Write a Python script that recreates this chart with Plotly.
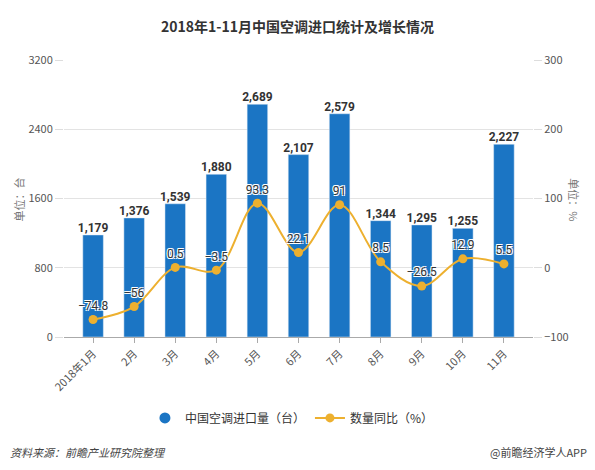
import plotly.graph_objects as go

months = ["2018年1月", "2月", "3月", "4月", "5月", "6月", "7月", "8月", "9月", "10月", "11月"]
imports = [1179, 1376, 1539, 1880, 2689, 2107, 2579, 1344, 1295, 1255, 2227]
yoy = [-74.8, -56, 0.5, -3.5, 93.3, 22.1, 91, 8.5, -26.5, 12.9, 5.5]
yoy_labels = ["−74.8", "−56", "0.5", "−3.5", "93.3", "22.1", "91", "8.5", "−26.5", "12.9", "5.5"]
left_ticks = [0, 800, 1600, 2400, 3200]
right_ticks = [-100, 0, 100, 200, 300]

BLUE = "#1B75C4"
GOLD = "#EDB02F"
FONT = "Noto Sans CJK SC"

fig = go.Figure()
fig.add_trace(go.Bar(
    x=months, y=imports, name="中国空调进口量（台）", marker_color=BLUE,
    width=0.5, showlegend=False,
))
fig.add_trace(go.Scatter(
    x=months, y=imports, mode="text", text=[f"{v:,}" for v in imports],
    textposition="top center", showlegend=False, hoverinfo="skip",
    textfont=dict(size=12, color="#333", family="Roboto", weight="bold"),
    cliponaxis=False,
))
fig.add_trace(go.Scatter(
    x=[None], y=[None], mode="markers", name="中国空调进口量（台）",
    marker=dict(color=BLUE, size=11, symbol="circle"), showlegend=True,
))
fig.add_trace(go.Scatter(
    x=months, y=yoy, yaxis="y2", name="数量同比（%）", mode="lines+markers+text",
    line=dict(color=GOLD, width=2, shape="spline", smoothing=1.0),
    marker=dict(color=GOLD, size=9),
    text=yoy_labels, textposition="top center",
    textfont=dict(size=12, color="#333", family="Roboto",
                  shadow="1px 1px 0 #fff, -1px -1px 0 #fff, 1px -1px 0 #fff, -1px 1px 0 #fff"),
    cliponaxis=False,
))

fig.update_layout(
    width=595, height=470,
    margin=dict(l=64, r=62, t=60, b=133, autoexpand=False),
    paper_bgcolor="white", plot_bgcolor="white",
    font=dict(family=FONT, color="#555", size=11),
    title=dict(text="<b>2018年1-11月中国空调进口统计及增长情况</b>", x=0.5, xanchor="center",
               y=0.943, yanchor="middle", font=dict(size=14, color="#333", family=FONT)),
    bargap=0.5,
    xaxis=dict(tickangle=-45, showline=True, linecolor="#aaa", ticks="outside",
               ticklen=5, tickcolor="#aaa", tickfont=dict(size=11, color="#555"),
               automargin=False),
    yaxis=dict(range=[0, 3200], tickvals=left_ticks, showgrid=True, gridcolor="#e3e3e3",
               ticks="outside", ticklen=8, tickcolor="#ddd", zeroline=False,
               tickfont=dict(size=11, color="#555"), automargin=False),
    yaxis2=dict(range=[-100, 300], tickvals=right_ticks, overlaying="y", side="right",
                showgrid=False, ticks="outside", ticklen=8, tickcolor="#ddd", zeroline=False,
                tickfont=dict(size=11, color="#555"), automargin=False),
    legend=dict(orientation="h", x=0.486, xanchor="center", y=-0.292, yanchor="middle",
                font=dict(size=12, color="#333"), itemwidth=30, tracegroupgap=0),
    showlegend=True,
)

fig.add_annotation(text="单位：台", xref="paper", yref="paper", x=-0.118, y=0.495,
                   textangle=-90, showarrow=False, font=dict(size=11, color="#777"))
fig.add_annotation(text="单位：%", xref="paper", yref="paper", x=1.11, y=0.495,
                   textangle=90, showarrow=False, font=dict(size=11, color="#777"))
fig.add_annotation(text="<i>资料来源：前瞻产业研究院整理</i>", xref="paper", yref="paper",
                   x=-0.12, xanchor="left", y=-0.415, yanchor="middle", showarrow=False,
                   font=dict(size=11, color="#444"))
fig.add_annotation(text="@前瞻经济学人APP", xref="paper", yref="paper",
                   x=1.12, xanchor="right", y=-0.415, yanchor="middle", showarrow=False,
                   font=dict(size=11, color="#444"))

fig.write_html("out.html", config={"displayModeBar": False},
               post_script="document.body.style.margin='0';")
